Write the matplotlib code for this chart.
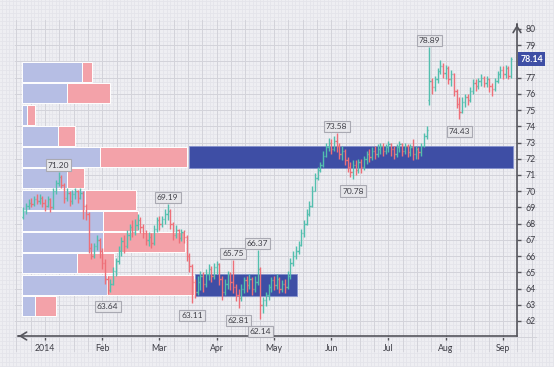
import matplotlib.pyplot as plt
from matplotlib.ticker import MultipleLocator, FixedLocator
import numpy as np

BG = '#EEEEF2'; AXC = '#55555C'; TXT = '#3E3E46'
TEAL = '#52BFAE'; RED = '#EE6F78'; NAVY = '#3E4EA5'
VBLUE = '#B6BEE4'; VRED = '#F3A2A9'
GRID = '#D3D3DA'; FAINT = '#E4E4EA'
FONT = ['Lato', 'DejaVu Sans']

# daily bars, first one sits 8 sessions before the 2014 tick
first_bar = -8
opens = [
    68.4, 68.8, 69.1, 69.3, 69.2, 69.5, 69.4, 69.6, 69.3, 69.1,
    69.5, 69.0, 70.0, 70.5, 70.9, 70.4, 69.6, 69.9, 69.4, 69.8,
    70.0, 69.6, 69.9, 69.1, 68.6, 66.5, 66.0, 66.6, 67.0, 66.3,
    65.6, 64.6, 63.9, 64.3, 65.1, 65.7, 66.3, 66.9, 66.6, 67.3,
    67.8, 67.5, 67.9, 68.2, 67.8, 67.4, 67.0, 67.2, 66.8, 67.7,
    68.2, 68.0, 68.3, 68.6, 68.8, 68.0, 67.3, 67.6, 67.1, 67.5,
    67.2, 66.0, 65.4, 64.4, 63.8, 64.4, 64.8, 64.3, 64.9, 65.2,
    64.8, 65.3, 65.5, 64.6, 63.8, 64.3, 64.9, 64.4, 64.1, 63.6,
    63.4, 64.0, 64.5, 64.2, 64.6, 64.0, 64.4, 65.2, 63.0, 63.3,
    63.6, 64.1, 64.5, 64.2, 64.6, 64.0, 64.3, 64.1, 64.8, 65.6,
    66.0, 66.3, 66.7, 67.4, 68.0, 68.6, 69.1, 70.0, 70.8, 71.3,
    71.6, 72.2, 72.7, 73.0, 72.6, 73.1, 72.8, 72.3, 72.5, 71.9,
    71.5, 71.2, 71.6, 71.3, 71.8, 71.5, 72.0, 72.3, 72.1, 72.5,
    72.3, 72.6, 72.8, 72.5, 72.7, 72.9, 72.6, 72.3, 72.7, 72.9,
    72.5, 72.8, 72.4, 72.7, 72.3, 72.6, 72.4, 72.8, 73.4, 75.6,
    76.8, 76.4, 76.9, 77.4, 77.7, 77.3, 77.6, 76.9, 77.2, 76.2,
    75.4, 74.9, 75.5, 75.8, 75.6, 76.2, 76.7, 76.5, 76.8, 77.0,
    76.7, 76.9, 76.5, 76.3, 76.8, 77.2, 77.5, 77.2, 77.6, 77.1]
highs = [
    69.0, 69.3, 69.5, 69.6, 69.7, 69.8, 69.8, 69.7, 69.5, 69.7,
    69.6, 70.2, 70.7, 71.2, 71.0, 70.5, 70.2, 70.0, 70.1, 70.2,
    70.1, 70.2, 70.0, 69.2, 68.7, 66.8, 66.8, 67.3, 67.1, 66.5,
    65.8, 64.8, 64.6, 65.3, 65.9, 66.6, 67.2, 67.3, 67.6, 68.0,
    68.2, 68.3, 68.6, 68.4, 68.0, 67.6, 67.5, 67.4, 67.9, 68.4,
    68.5, 68.5, 68.9, 69.19, 68.9, 68.1, 67.9, 67.7, 67.7, 67.6,
    67.3, 66.2, 65.5, 64.6, 64.8, 65.1, 65.0, 65.2, 65.5, 65.4,
    65.6, 65.7, 65.6, 64.8, 64.6, 65.1, 65.0, 65.75, 64.3, 64.0,
    64.3, 64.7, 64.8, 64.9, 64.7, 64.8, 66.37, 65.3, 63.5, 63.8,
    64.3, 64.7, 64.8, 64.9, 64.7, 64.5, 64.6, 65.1, 65.9, 66.3,
    66.6, 66.9, 67.7, 68.2, 68.9, 69.4, 70.3, 71.1, 71.5, 71.8,
    72.5, 73.0, 73.3, 73.2, 73.4, 73.58, 73.0, 72.8, 72.6, 72.1,
    71.8, 71.9, 71.9, 72.0, 72.0, 72.2, 72.5, 72.6, 72.7, 72.8,
    72.9, 73.0, 73.0, 72.9, 73.1, 73.0, 72.8, 72.9, 73.1, 73.0,
    73.0, 72.9, 72.9, 73.2, 72.8, 72.7, 73.0, 73.6, 74.0, 78.89,
    77.0, 77.1, 77.6, 78.1, 77.9, 77.8, 77.7, 77.5, 77.3, 76.3,
    75.8, 75.8, 76.0, 76.0, 76.4, 76.9, 76.9, 77.0, 77.2, 77.1,
    77.1, 77.0, 76.7, 77.0, 77.4, 77.7, 77.7, 77.8, 77.7, 78.3]
lows = [
    68.3, 68.6, 68.9, 69.0, 69.1, 69.2, 69.2, 69.0, 68.8, 69.0,
    68.7, 68.9, 69.8, 70.3, 70.2, 69.3, 69.4, 69.1, 69.2, 69.5,
    69.3, 69.5, 68.3, 68.2, 66.2, 65.8, 65.9, 66.4, 65.9, 65.2,
    64.3, 63.64, 63.8, 64.2, 64.8, 65.5, 66.0, 66.2, 66.5, 67.0,
    67.2, 67.3, 67.6, 67.4, 67.1, 66.7, 66.6, 66.5, 66.7, 67.5,
    67.6, 67.8, 68.0, 68.2, 67.7, 67.0, 67.1, 66.8, 66.9, 66.8,
    65.7, 65.0, 63.11, 63.4, 63.6, 63.9, 63.8, 64.1, 64.5, 64.4,
    64.6, 64.9, 64.2, 63.3, 63.6, 64.0, 63.9, 63.7, 63.2, 62.81,
    63.2, 63.7, 63.8, 64.0, 63.6, 63.8, 64.2, 62.14, 62.5, 62.9,
    63.3, 63.8, 63.9, 64.0, 63.7, 63.8, 63.7, 64.0, 64.6, 65.4,
    65.8, 66.1, 66.6, 67.2, 67.9, 68.5, 69.0, 70.0, 70.7, 71.2,
    71.5, 72.1, 72.5, 72.3, 72.5, 72.4, 72.0, 71.9, 71.6, 71.2,
    70.9, 70.78, 71.0, 71.1, 71.1, 71.3, 71.7, 71.8, 71.9, 72.0,
    72.1, 72.3, 72.2, 72.3, 72.4, 72.2, 72.0, 72.1, 72.4, 72.2,
    72.3, 72.1, 72.2, 71.9, 72.0, 72.0, 72.2, 72.7, 73.2, 75.3,
    76.0, 76.2, 76.7, 77.2, 77.0, 76.9, 76.6, 76.5, 75.9, 75.1,
    74.43, 74.8, 75.2, 75.3, 75.5, 76.0, 76.2, 76.3, 76.5, 76.4,
    76.4, 76.1, 75.9, 76.2, 76.7, 77.0, 76.9, 77.0, 76.9, 77.0]
closes = [
    68.8, 69.1, 69.3, 69.2, 69.5, 69.4, 69.6, 69.3, 69.1, 69.5,
    69.0, 70.0, 70.5, 70.9, 70.4, 69.6, 69.9, 69.4, 69.8, 70.0,
    69.6, 69.9, 69.1, 68.6, 66.5, 66.0, 66.6, 67.0, 66.3, 65.6,
    64.6, 63.9, 64.3, 65.1, 65.7, 66.3, 66.9, 66.6, 67.3, 67.8,
    67.5, 67.9, 68.2, 67.8, 67.4, 67.0, 67.2, 66.8, 67.7, 68.2,
    68.0, 68.3, 68.6, 68.8, 68.0, 67.3, 67.6, 67.1, 67.5, 67.2,
    66.0, 65.4, 64.4, 63.8, 64.4, 64.8, 64.3, 64.9, 65.2, 64.8,
    65.3, 65.5, 64.6, 63.8, 64.3, 64.9, 64.4, 64.1, 63.6, 63.4,
    64.0, 64.5, 64.2, 64.6, 64.0, 64.4, 65.2, 63.0, 63.3, 63.6,
    64.1, 64.5, 64.2, 64.6, 64.0, 64.3, 64.1, 64.8, 65.6, 66.0,
    66.3, 66.7, 67.4, 68.0, 68.6, 69.1, 70.0, 70.8, 71.3, 71.6,
    72.2, 72.7, 73.0, 72.6, 73.1, 72.8, 72.3, 72.5, 71.9, 71.5,
    71.2, 71.6, 71.3, 71.8, 71.5, 72.0, 72.3, 72.1, 72.5, 72.3,
    72.6, 72.8, 72.5, 72.7, 72.9, 72.6, 72.3, 72.7, 72.9, 72.5,
    72.8, 72.4, 72.7, 72.3, 72.6, 72.4, 72.8, 73.4, 73.8, 76.8,
    76.4, 76.9, 77.4, 77.7, 77.3, 77.6, 76.9, 77.2, 76.2, 75.4,
    74.9, 75.5, 75.8, 75.6, 76.2, 76.7, 76.5, 76.8, 77.0, 76.7,
    76.9, 76.5, 76.3, 76.8, 77.2, 77.5, 77.2, 77.6, 77.1, 78.14]

month_pos = [0, 21, 42, 63, 84, 105, 126, 147, 168]
month_labels = ['2014', 'Feb', 'Mar', 'Apr', 'May', 'Jun', 'Jul', 'Aug', 'Sep']
price_ticks = list(range(62, 81))

# volume profile (millions), bins from low to high price
bin_centers = [62.93, 64.24, 65.55, 66.86, 68.17, 69.48,
               70.79, 72.10, 73.41, 74.72, 76.03, 77.34]
vol_up = [1.3, 8.5, 5.5, 8.1, 8.1, 6.3, 4.5, 7.8, 3.6, 0.5, 4.5, 6.0]
vol_down = [2.1, 8.7, 3.7, 8.2, 3.5, 5.1, 1.7, 8.7, 1.7, 0.8, 4.3, 1.0]

# highlighted value levels and the bar ranges they cover
poc_levels = [72.12, 64.22]
poc_start = [52.8, 55.0]
poc_end = [171.7, 92.4]

# labelled swing highs / lows: (bar, price)
peak_bars = [5, 45, 69, 78, 107, 141]
peak_vals = [71.20, 69.19, 65.75, 66.37, 73.58, 78.89]
trough_bars = [23, 54, 71, 79, 113, 152]
trough_vals = [63.64, 63.11, 62.81, 62.14, 70.78, 74.43]
last_price = 78.14

# pixel geometry of the reference
W, H = 554, 367
PX = 2.726          # px per bar
X0 = 45             # px of bar 0
PY = 16.22          # px per price unit
Y80 = 29            # px (from top) of price 80

def bx(px):
    return (px - X0) / PX

def py(p):
    return 80 - (p - Y80) / PY

fig = plt.figure(figsize=(W / 100, H / 100), dpi=100, facecolor=BG)

# faint paper grid over the whole canvas
bg = fig.add_axes([0, 0, 1, 1], zorder=0)
bg.set_facecolor(BG)
bg.set_xlim(bx(0), bx(W)); bg.set_ylim(py(H), py(0))
bg.xaxis.set_major_locator(MultipleLocator(5.25 / 4))
bg.yaxis.set_major_locator(MultipleLocator(0.25))
bg.grid(True, color=FAINT, lw=0.6)
bg.tick_params(length=0, labelbottom=False, labelleft=False)
for sp in bg.spines.values(): sp.set_visible(False)

ax = fig.add_axes([15 / W, (H - 352) / H, 522 / W, 332 / H], zorder=1)
ax.set_facecolor('none')
ax.set_xlim(bx(15), bx(537)); ax.set_ylim(py(352), py(20))

# volume profile
scale = 10 / PX
left0 = bx(22)
up_w = np.array(vol_up) * scale
dn_w = np.array(vol_down) * scale
ax.barh(bin_centers, up_w, left=left0, height=1.24, color=VBLUE,
        edgecolor='white', lw=0.7, zorder=2)
ax.barh(bin_centers, dn_w, left=left0 + up_w, height=1.24, color=VRED,
        edgecolor='white', lw=0.7, zorder=2)
ax.barh(poc_levels, np.array(poc_end) - np.array(poc_start), left=poc_start,
        height=1.32, color=NAVY, edgecolor='#8490CC', lw=0.6, zorder=3)

# OHLC bars
x = np.arange(first_bar, first_bar + len(closes))
o = np.array(opens); h = np.array(highs); l = np.array(lows); c = np.array(closes)
col = np.where(c >= o, TEAL, RED)
ax.vlines(x, l, h, colors=col, lw=1.0, zorder=4)
ax.hlines(o, x - 0.45, x, colors=col, lw=1.0, zorder=4)
ax.hlines(c, x, x + 0.45, colors=col, lw=1.0, zorder=4)

box = dict(boxstyle='square,pad=0.25', fc='#E6E6EA', ec='#A9A9B2', lw=0.8)
for b, v in zip(peak_bars, peak_vals):
    ax.annotate(f'{v:.2f}', (b, v), xytext=(0, 4.8), textcoords='offset points',
                ha='center', va='center', fontsize=6, color=TXT,
                family=FONT, bbox=box, zorder=6)
for b, v in zip(trough_bars, trough_vals):
    ax.annotate(f'{v:.2f}', (b, v), xytext=(0, -9), textcoords='offset points',
                ha='center', va='center', fontsize=6, color=TXT,
                family=FONT, bbox=box, zorder=6)

# axes: x line at bottom with left arrow, y line at right with top arrow
y_axis_px, x_axis_py = 517, 336
xa, ya = bx(y_axis_px), py(x_axis_py)
for sp in ['top', 'left']: ax.spines[sp].set_visible(False)
ax.spines['bottom'].set_position(('data', ya))
ax.spines['bottom'].set_bounds(bx(18), xa)
ax.spines['right'].set_position(('data', xa))
ax.spines['right'].set_bounds(ya, py(24))
for sp in ['bottom', 'right']:
    ax.spines[sp].set_color(AXC); ax.spines[sp].set_linewidth(1.2)
    ax.spines[sp].set_zorder(5)
arrow = dict(arrowstyle='->,head_length=0.45,head_width=0.28', color=AXC, lw=1.2)
ax.annotate('', xy=(bx(16), ya), xytext=(bx(22), ya), arrowprops=arrow)
ax.annotate('', xy=(xa, py(22)), xytext=(xa, py(28)), arrowprops=arrow)

ax.xaxis.set_major_locator(FixedLocator(month_pos))
ax.set_xticklabels(month_labels)
ax.xaxis.set_minor_locator(MultipleLocator(5.25))
ax.yaxis.tick_right()
ax.yaxis.set_major_locator(FixedLocator(price_ticks))
# the last-price tag covers the 78 label
ax.set_yticklabels(['' if t == round(last_price) else str(t) for t in price_ticks])
ax.yaxis.set_minor_locator(MultipleLocator(1))
ax.tick_params(axis='x', which='major', direction='out', length=3, width=1,
               color=AXC, labelsize=6.3, labelcolor=TXT, pad=3)
ax.tick_params(axis='y', which='major', direction='out', length=3, width=1,
               color=AXC, labelsize=6.3, labelcolor=TXT, pad=3)
ax.tick_params(which='minor', length=0)
for t in ax.get_xticklabels() + ax.get_yticklabels():
    t.set_family(FONT)
ax.grid(True, which='both', color=GRID, lw=0.7, zorder=0)
ax.set_axisbelow(True)

ax.text(bx(520.5), last_price, f'{last_price:.2f}', color='white', fontsize=6.3,
        family=FONT, fontweight='bold', ha='left', va='center', zorder=7,
        bbox=dict(boxstyle='square,pad=0.25', fc=NAVY, ec='none'))

plt.savefig('out.png', dpi=100, facecolor=BG)
plt.close()
